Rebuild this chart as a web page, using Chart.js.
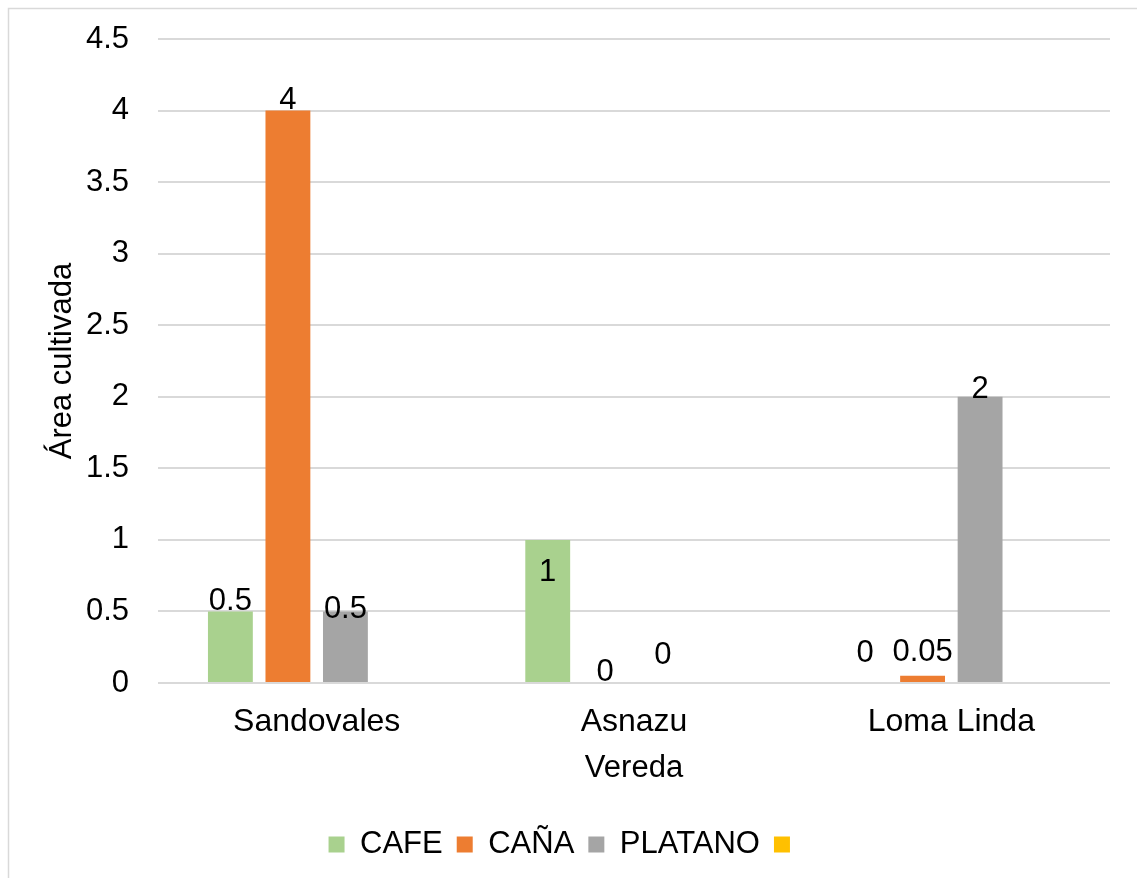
<!DOCTYPE html>
<html>
<head>
<meta charset="utf-8">
<script src="https://cdn.jsdelivr.net/npm/chart.js@4/dist/chart.umd.min.js"></script>
<style>
  html, body { margin: 0; padding: 0; background: #fff; }
  canvas { display: block; }
</style>
</head>
<body>
<canvas id="areaChart" width="1137" height="878"></canvas>
<script>
const veredas = ['Sandovales', 'Asnazu', 'Loma Linda'];
const cafe = [0.5, 1, 0];
const cana = [4, 0, 0.05];
const platano = [0.5, 0, 2];
const sinNombre = [null, null, null];
const yTicks = [0, 0.5, 1, 1.5, 2, 2.5, 3, 3.5, 4, 4.5];

// vertical nudge (px) of each value label from the top of its bar
const labelNudge = [
  [-10, 33, -30],
  [-10, -11, -23],
  [-2, -28, -7],
  [0, 0, 0]
];

const FONT = 'Liberation Sans, Arial, sans-serif';

const frameLines = {
  id: 'frameLines',
  beforeDraw(chart) {
    const ctx = chart.ctx;
    ctx.save();
    ctx.strokeStyle = '#d9d9d9';
    ctx.lineWidth = 1.5;
    ctx.beginPath();
    ctx.moveTo(8.5, chart.height);
    ctx.lineTo(8.5, 8.5);
    ctx.lineTo(chart.width, 8.5);
    ctx.stroke();
    ctx.restore();
  }
};

// legend spans the full width; push it a little right of the canvas centre
const legendShift = {
  id: 'legendShift',
  afterLayout(chart) {
    chart.legend.left += 12;
    chart.legend.right += 12;
  }
};

const valueLabels = {
  id: 'valueLabels',
  afterDatasetsDraw(chart) {
    const ctx = chart.ctx;
    ctx.save();
    ctx.font = '31px ' + FONT;
    ctx.fillStyle = '#000';
    ctx.textAlign = 'center';
    ctx.textBaseline = 'middle';
    chart.data.datasets.forEach((ds, i) => {
      const meta = chart.getDatasetMeta(i);
      meta.data.forEach((bar, j) => {
        const v = ds.data[j];
        if (v === null || v === undefined) return;
        ctx.fillText(String(v), bar.x, bar.y + labelNudge[i][j]);
      });
    });
    ctx.restore();
  }
};

new Chart(document.getElementById('areaChart').getContext('2d'), {
  type: 'bar',
  data: {
    labels: veredas,
    datasets: [
      { label: 'CAFE', data: cafe, backgroundColor: '#a9d18e' },
      { label: 'CAÑA', data: cana, backgroundColor: '#ed7d31' },
      { label: 'PLATANO', data: platano, backgroundColor: '#a5a5a5' },
      { label: '', data: sinNombre, backgroundColor: '#ffc000' }
    ]
  },
  options: {
    responsive: false,
    animation: false,
    categoryPercentage: 0.725,
    barPercentage: 0.78,
    layout: { autoPadding: false, padding: { top: 39, right: 27, left: 0, bottom: 8 } },
    plugins: {
      legend: {
        position: 'bottom',
        labels: {
          color: '#000',
          font: { family: FONT, size: 31 },
          boxWidth: 16,
          boxHeight: 16,
          padding: 14
        }
      },
      tooltip: { enabled: false }
    },
    scales: {
      x: {
        grid: { display: false },
        border: { display: false },
        ticks: { color: '#000', font: { family: FONT, size: 32 }, padding: 12 },
        title: {
          display: true,
          text: 'Vereda',
          color: '#000',
          font: { family: FONT, size: 31 },
          padding: { top: 0, bottom: 28 }
        },
        afterFit(scale) { scale.height = 132; }
      },
      y: {
        min: 0,
        max: 4.5,
        afterBuildTicks(scale) { scale.ticks = yTicks.map(v => ({ value: v })); },
        grid: { color: '#d9d9d9', lineWidth: 2, drawTicks: false },
        border: { display: false },
        ticks: {
          color: '#000',
          font: { family: FONT, size: 31 },
          padding: 29,
          callback: v => String(v)
        },
        title: {
          display: true,
          text: 'Área cultivada',
          color: '#000',
          font: { family: FONT, size: 31 },
          padding: { top: 44, bottom: 0 }
        },
        afterFit(scale) {
          scale.width = 158;
          scale.paddingTop = 39;
          scale.paddingBottom = 0;
        }
      }
    }
  },
  plugins: [frameLines, legendShift, valueLabels]
});
</script>
</body>
</html>
